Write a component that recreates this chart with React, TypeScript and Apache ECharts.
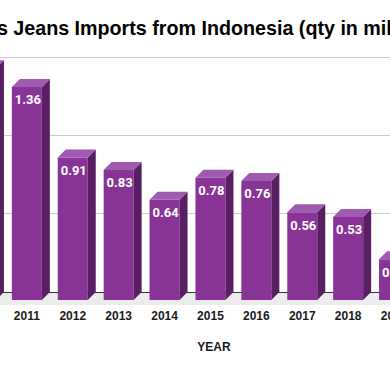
import React, { useEffect, useRef } from "react";
import * as echarts from "echarts";

const years = ["2010", "2011", "2012", "2013", "2014", "2015", "2016", "2017", "2018", "2019"];
const imports = [1.48, 1.36, 0.91, 0.83, 0.64, 0.78, 0.76, 0.56, 0.53, 0.26];
const yTicks = [0, 0.5, 1, 1.5];
const titleText = "US Men's Jeans Imports from Indonesia (qty in millions)";
const axisName = "YEAR";

const OFFSET = 120; // chart extends beyond the visible window on the left
const CHART_W = 590;
const CHART_H = 371;

const FRONT = "#883497";
const SIDE = "#582062";
const TOP = "#a05aaf";
const DEPTH = 8;
const HALF_W = 15;

export default function App() {
  const ref = useRef<HTMLDivElement>(null);

  useEffect(() => {
    if (!ref.current) return;
    const chart = echarts.init(ref.current, null, { renderer: "svg" });
    chart.setOption({
      animation: false,
      backgroundColor: "#ffffff",
      title: {
        text: titleText,
        left: 35,
        top: 13,
        textStyle: {
          fontFamily: "Liberation Sans, Arial, sans-serif",
          fontWeight: "bold",
          fontSize: 19.7,
          color: "#000000",
        },
      },
      grid: { left: 78, right: 53, top: 57, bottom: 79 },
      graphic: [
        {
          type: "rect",
          z: -1,
          shape: { x: 0, y: 292, width: CHART_W, height: 13 },
          style: { fill: "#ececec" },
        },
      ],
      xAxis: {
        type: "category",
        data: years,
        axisTick: { show: false },
        axisLine: { lineStyle: { color: "#333333", width: 1 } },
        axisLabel: {
          margin: 18,
          fontFamily: "Liberation Sans, Arial, sans-serif",
          fontWeight: "bold",
          fontSize: 12,
          color: "#1a1a1a",
        },
        name: axisName,
        nameLocation: "middle",
        nameGap: 49,
        nameTextStyle: {
          fontFamily: "Liberation Sans, Arial, sans-serif",
          fontWeight: "bold",
          fontSize: 12,
          color: "#1a1a1a",
          padding: [0, 0, 0, 53],
        },
      },
      yAxis: {
        type: "value",
        min: yTicks[0],
        max: yTicks[yTicks.length - 1],
        interval: 0.5,
        axisLabel: { show: false },
        axisLine: { show: false },
        axisTick: { show: false },
        splitLine: { lineStyle: { color: "#cccccc", width: 1 } },
      },
      series: [
        {
          type: "custom",
          clip: false,
          data: imports.map((v, i) => [i, v]),
          encode: { x: 0, y: 1 },
          renderItem: (params: any, api: any) => {
            const i = api.value(0);
            const v = api.value(1);
            const topPt = api.coord([i, v]);
            const basePt = api.coord([i, 0]);
            const cx = topPt[0];
            const ty = topPt[1];
            const by = basePt[1];
            const l = cx - HALF_W;
            const r = cx + HALF_W;
            return {
              type: "group",
              children: [
                {
                  type: "rect",
                  shape: { x: l, y: ty + DEPTH, width: r - l, height: by - ty },
                  style: { fill: FRONT },
                },
                {
                  type: "polygon",
                  shape: {
                    points: [
                      [r, ty + DEPTH],
                      [r + DEPTH, ty],
                      [r + DEPTH, by],
                      [r, by + DEPTH],
                    ],
                  },
                  style: { fill: SIDE },
                },
                {
                  type: "polygon",
                  shape: {
                    points: [
                      [l, ty + DEPTH],
                      [l + DEPTH, ty],
                      [r + DEPTH, ty],
                      [r, ty + DEPTH],
                    ],
                  },
                  style: { fill: TOP },
                },
                {
                  type: "text",
                  x: cx + 1,
                  y: ty + DEPTH + 13,
                  style: {
                    text: v.toFixed(2),
                    fill: "#ffffff",
                    font: "bold 13px Roboto, sans-serif",
                    align: "center",
                    verticalAlign: "middle",
                  },
                },
              ],
            };
          },
        },
      ],
    });
    return () => chart.dispose();
  }, []);

  return (
    <div
      style={{
        position: "fixed",
        left: 0,
        top: 0,
        width: 390,
        height: 371,
        overflow: "hidden",
        background: "#ffffff",
      }}
    >
      <div
        ref={ref}
        style={{ position: "absolute", left: -OFFSET, top: 0, width: CHART_W, height: CHART_H }}
      />
    </div>
  );
}
